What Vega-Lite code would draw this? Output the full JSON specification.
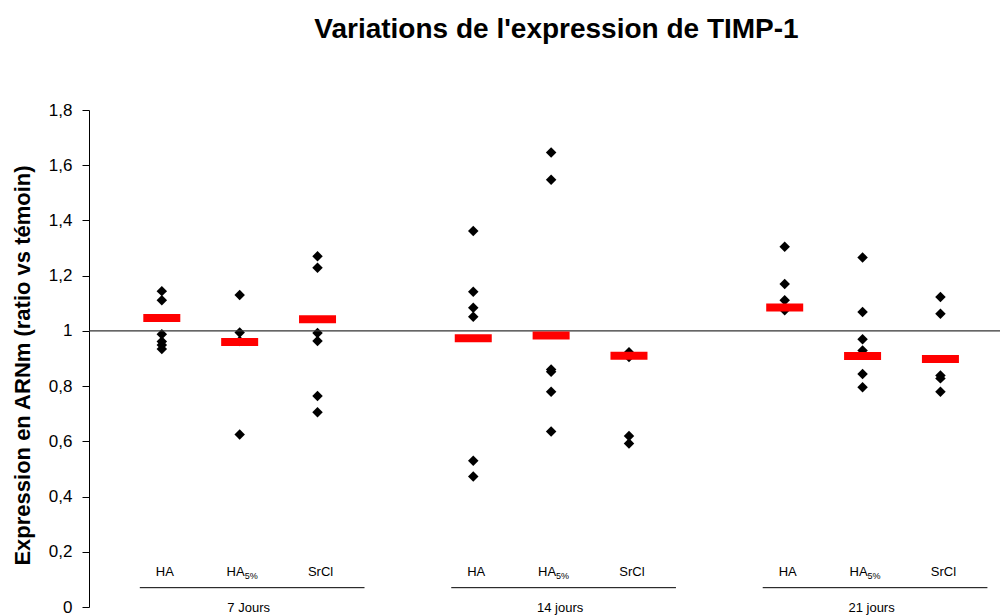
{
  "$schema": "https://vega.github.io/schema/vega-lite/v6.json",
  "width": 911,
  "height": 497,
  "autosize": "none",
  "padding": {"left": 89, "top": 110, "right": 2, "bottom": 9},
  "background": "white",
  "config": {"view": {"stroke": null}, "font": "Liberation Sans"},
  "title": {
    "text": "Variations de l'expression de TIMP-1",
    "fontSize": 28,
    "fontWeight": "bold",
    "font": "Liberation Sans",
    "color": "black",
    "anchor": "middle",
    "dx": 12,
    "offset": 57
  },
  "datasets": {
    "pts": [
      {"cat": "7-HA", "v": 1.144}, {"cat": "7-HA", "v": 1.111}, {"cat": "7-HA", "v": 0.988}, {"cat": "7-HA", "v": 0.962}, {"cat": "7-HA", "v": 0.949}, {"cat": "7-HA", "v": 0.934},
      {"cat": "7-HA5", "v": 1.13}, {"cat": "7-HA5", "v": 0.994}, {"cat": "7-HA5", "v": 0.963}, {"cat": "7-HA5", "v": 0.625},
      {"cat": "7-Sr", "v": 1.27}, {"cat": "7-Sr", "v": 1.229}, {"cat": "7-Sr", "v": 0.992}, {"cat": "7-Sr", "v": 0.963}, {"cat": "7-Sr", "v": 0.764}, {"cat": "7-Sr", "v": 0.705},
      {"cat": "14-HA", "v": 1.362}, {"cat": "14-HA", "v": 1.142}, {"cat": "14-HA", "v": 1.084}, {"cat": "14-HA", "v": 1.051}, {"cat": "14-HA", "v": 0.53}, {"cat": "14-HA", "v": 0.473},
      {"cat": "14-HA5", "v": 1.646}, {"cat": "14-HA5", "v": 1.547}, {"cat": "14-HA5", "v": 0.86}, {"cat": "14-HA5", "v": 0.852}, {"cat": "14-HA5", "v": 0.78}, {"cat": "14-HA5", "v": 0.636},
      {"cat": "14-Sr", "v": 0.923}, {"cat": "14-Sr", "v": 0.905}, {"cat": "14-Sr", "v": 0.619}, {"cat": "14-Sr", "v": 0.592},
      {"cat": "21-HA", "v": 1.305}, {"cat": "21-HA", "v": 1.17}, {"cat": "21-HA", "v": 1.111}, {"cat": "21-HA", "v": 1.075},
      {"cat": "21-HA5", "v": 1.266}, {"cat": "21-HA5", "v": 1.068}, {"cat": "21-HA5", "v": 0.97}, {"cat": "21-HA5", "v": 0.929}, {"cat": "21-HA5", "v": 0.844}, {"cat": "21-HA5", "v": 0.796},
      {"cat": "21-Sr", "v": 1.123}, {"cat": "21-Sr", "v": 1.062}, {"cat": "21-Sr", "v": 0.838}, {"cat": "21-Sr", "v": 0.828}, {"cat": "21-Sr", "v": 0.78}
    ],
    "means": [
      {"cat": "7-HA", "v": 1.047}, {"cat": "7-HA5", "v": 0.96}, {"cat": "7-Sr", "v": 1.042},
      {"cat": "14-HA", "v": 0.973}, {"cat": "14-HA5", "v": 0.983}, {"cat": "14-Sr", "v": 0.91},
      {"cat": "21-HA", "v": 1.085}, {"cat": "21-HA5", "v": 0.909}, {"cat": "21-Sr", "v": 0.898}
    ],
    "labels": [
      {"cat": "7-HA", "lab": "HA"}, {"cat": "7-Sr", "lab": "SrCl"},
      {"cat": "14-HA", "lab": "HA"}, {"cat": "14-Sr", "lab": "SrCl"},
      {"cat": "21-HA", "lab": "HA"}, {"cat": "21-Sr", "lab": "SrCl"}
    ],
    "sublabels": [
      {"cat": "7-HA5", "lab": "HA", "sub": "5%"},
      {"cat": "14-HA5", "lab": "HA", "sub": "5%"},
      {"cat": "21-HA5", "lab": "HA", "sub": "5%"}
    ],
    "groups": [
      {"cat": "7-HA", "cat2": "7-Sr", "mid": "7-HA5", "name": "7 Jours"},
      {"cat": "14-HA", "cat2": "14-Sr", "mid": "14-HA5", "name": "14 jours"},
      {"cat": "21-HA", "cat2": "21-Sr", "mid": "21-HA5", "name": "21 jours"}
    ]
  },
  "layer": [
    {
      "data": {"name": "pts"},
      "mark": {"type": "point", "shape": "diamond", "filled": true, "color": "black", "size": 110, "opacity": 1},
      "encoding": {
        "x": {"field": "cat", "type": "nominal", "axis": null,
          "scale": {"type": "point", "domain": ["7-HA","7-HA5","7-Sr","g1","14-HA","14-HA5","14-Sr","g2","21-HA","21-HA5","21-Sr"], "padding": 0.85, "align": 0.55}},
        "y": {"field": "v", "type": "quantitative",
          "scale": {"domain": [0, 1.8], "nice": false, "zero": true},
          "axis": {
            "values": [0, 0.2, 0.4, 0.6, 0.8, 1, 1.2, 1.4, 1.6, 1.8],
            "labelExpr": "replace(format(datum.value, '.1~f'), '.', ',')",
            "grid": false,
            "domainColor": "black",
            "tickColor": "black",
            "tickSize": 7,
            "labelPadding": 10,
            "labelFontSize": 17,
            "labelColor": "black",
            "labelFont": "Liberation Sans",
            "title": "Expression en ARNm (ratio vs témoin)",
            "titleFont": "Liberation Sans",
            "titleFontSize": 22,
            "titleFontWeight": "bold",
            "titleColor": "black",
            "titleAngle": -90,
            "titleAlign": "center",
            "titleBaseline": "middle",
            "titleX": -67,
            "titleY": 255
          }}
      }
    },
    {
      "data": {"values": [{}]},
      "mark": {"type": "rule", "color": "#333333", "strokeWidth": 1.3},
      "encoding": {"y": {"datum": 1, "type": "quantitative"}}
    },
    {
      "data": {"name": "means"},
      "mark": {"type": "tick", "orient": "horizontal", "color": "#ff0000", "size": 37, "thickness": 8, "opacity": 1},
      "encoding": {
        "x": {"field": "cat", "type": "nominal"},
        "y": {"field": "v", "type": "quantitative"}
      }
    },
    {
      "data": {"name": "labels"},
      "mark": {"type": "text", "fontSize": 13, "font": "Liberation Sans", "color": "black", "align": "center", "baseline": "middle", "dx": 3},
      "encoding": {
        "x": {"field": "cat", "type": "nominal"},
        "y": {"datum": 0.127, "type": "quantitative"},
        "text": {"field": "lab"}
      }
    },
    {
      "data": {"name": "sublabels"},
      "mark": {"type": "text", "fontSize": 13, "font": "Liberation Sans", "color": "black", "align": "right", "baseline": "middle", "dx": 5},
      "encoding": {
        "x": {"field": "cat", "type": "nominal"},
        "y": {"datum": 0.127, "type": "quantitative"},
        "text": {"field": "lab"}
      }
    },
    {
      "data": {"name": "sublabels"},
      "mark": {"type": "text", "fontSize": 9, "font": "Liberation Sans", "color": "black", "align": "left", "baseline": "middle", "dx": 5, "dy": 4},
      "encoding": {
        "x": {"field": "cat", "type": "nominal"},
        "y": {"datum": 0.127, "type": "quantitative"},
        "text": {"field": "sub"}
      }
    },
    {
      "data": {"name": "groups"},
      "mark": {"type": "rule", "color": "black", "strokeWidth": 1, "xOffset": -22, "x2Offset": 47},
      "encoding": {
        "x": {"field": "cat", "type": "nominal"},
        "x2": {"field": "cat2"},
        "y": {"datum": 0.07, "type": "quantitative"}
      }
    },
    {
      "data": {"name": "groups"},
      "mark": {"type": "text", "fontSize": 13, "font": "Liberation Sans", "color": "black", "align": "center", "baseline": "middle", "dx": 9, "dy": 1},
      "encoding": {
        "x": {"field": "mid", "type": "nominal"},
        "y": {"datum": 0, "type": "quantitative"},
        "text": {"field": "name"}
      }
    }
  ]
}
